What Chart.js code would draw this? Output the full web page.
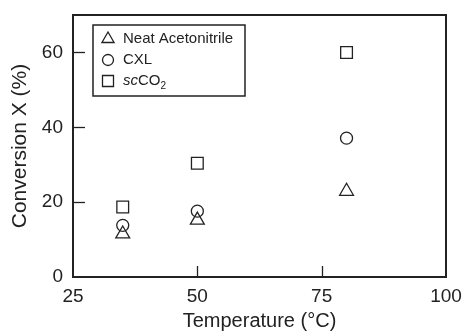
<!DOCTYPE html>
<html>
<head>
<meta charset="utf-8">
<script src="https://cdn.jsdelivr.net/npm/chart.js@4.4.1/dist/chart.umd.min.js"></script>
<style>
  html, body { margin: 0; padding: 0; background: #fff; }
  #wrap { width: 465px; height: 333px; position: relative; }
</style>
</head>
<body>
<div id="wrap"><canvas id="convChart"></canvas></div>
<script>
// --- data ---
const temperatures = [35, 50, 80];
const neatAcetonitrile = [11.5, 15.2, 22.9];
const cxl = [13.8, 17.6, 37.1];
const scCO2 = [18.7, 30.4, 60];
const xTicks = [25, 50, 75, 100];
const yTicks = [0, 20, 40, 60];

const ink = '#222';
const fontFam = '"Liberation Sans", Arial, Helvetica, sans-serif';

function toPoints(ys) {
    return temperatures.map((t, i) => ({ x: t, y: ys[i] }));
}

// frame + inward ticks
const framePlugin = {
    id: 'frame',
    afterDraw(chart) {
        const { ctx, chartArea: a, scales } = chart;
        ctx.save();
        ctx.strokeStyle = ink;
        ctx.lineWidth = 1.3;
        yTicks.slice(1).forEach(v => {
            const py = Math.round(scales.y.getPixelForValue(v)) + 0.5;
            ctx.beginPath();
            ctx.moveTo(a.left, py);
            ctx.lineTo(a.left + 12, py);
            ctx.stroke();
        });
        xTicks.slice(1, -1).forEach(v => {
            const px = Math.round(scales.x.getPixelForValue(v)) + 0.5;
            ctx.beginPath();
            ctx.moveTo(px, a.bottom);
            ctx.lineTo(px, a.bottom - 11);
            ctx.stroke();
        });
        ctx.lineWidth = 2;
        ctx.strokeRect(a.left, a.top, a.right - a.left, a.bottom - a.top);
        ctx.restore();
    }
};

// boxed legend inside the plot (needs italic + subscript for scCO2)
const legendPlugin = {
    id: 'boxLegend',
    afterDraw(chart) {
        const { ctx, chartArea: a } = chart;
        const bx = a.left + 20, by = a.top + 10, bw = 152, bh = 71;
        ctx.save();
        ctx.strokeStyle = ink;
        ctx.lineWidth = 1.5;
        ctx.strokeRect(bx, by, bw, bh);
        ctx.fillStyle = ink;
        ctx.textBaseline = 'middle';
        chart.data.datasets.forEach((ds, i) => {
            const mx = bx + 15, my = by + 14 + i * 21;
            ctx.lineWidth = 1.3;
            ctx.beginPath();
            if (ds.pointStyle === 'triangle') {
                const r = 7;
                ctx.moveTo(mx, my - r);
                ctx.lineTo(mx + r * 0.866, my + r * 0.5);
                ctx.lineTo(mx - r * 0.866, my + r * 0.5);
                ctx.closePath();
            } else if (ds.pointStyle === 'circle') {
                ctx.arc(mx, my, 5.5, 0, Math.PI * 2);
            } else {
                ctx.rect(mx - 5.5, my - 5.5, 11, 11);
            }
            ctx.stroke();
            const tx = bx + 30;
            if (ds.label === 'scCO2') {
                ctx.font = 'italic 15px ' + fontFam;
                ctx.fillText('sc', tx, my);
                let w = ctx.measureText('sc').width;
                ctx.font = '15px ' + fontFam;
                ctx.fillText('CO', tx + w, my);
                w += ctx.measureText('CO').width;
                ctx.font = '10px ' + fontFam;
                ctx.fillText('2', tx + w, my + 5);
            } else {
                ctx.font = '15px ' + fontFam;
                ctx.fillText(ds.label, tx, my);
            }
        });
        ctx.restore();
    }
};

new Chart(document.getElementById('convChart'), {
    type: 'scatter',
    data: {
        datasets: [
            {
                label: 'Neat Acetonitrile',
                data: toPoints(neatAcetonitrile),
                pointStyle: 'triangle',
                pointRadius: 8,
                borderColor: ink,
                backgroundColor: 'rgba(0,0,0,0)',
                borderWidth: 1.3
            },
            {
                label: 'CXL',
                data: toPoints(cxl),
                pointStyle: 'circle',
                pointRadius: 6,
                borderColor: ink,
                backgroundColor: 'rgba(0,0,0,0)',
                borderWidth: 1.3
            },
            {
                label: 'scCO2',
                data: toPoints(scCO2),
                pointStyle: 'rect',
                pointRadius: 8.3,
                borderColor: ink,
                backgroundColor: 'rgba(0,0,0,0)',
                borderWidth: 1.3
            }
        ]
    },
    options: {
        responsive: true,
        maintainAspectRatio: false,
        animation: false,
        layout: { padding: { top: 15, right: 19, left: 0, bottom: 0 } },
        plugins: {
            legend: { display: false },
            tooltip: { enabled: false }
        },
        scales: {
            x: {
                type: 'linear',
                min: 25,
                max: 100,
                afterBuildTicks: s => { s.ticks = xTicks.map(v => ({ value: v })); },
                afterFit: s => { s.height = 56; s.paddingLeft = 0; s.paddingRight = 0; },
                grid: { display: false, drawTicks: false },
                border: { display: false },
                ticks: { color: ink, padding: 8, font: { family: fontFam, size: 19 } },
                title: {
                    display: true,
                    text: 'Temperature (°C)',
                    color: ink,
                    padding: { top: 0, bottom: 0 },
                    font: { family: fontFam, size: 20 }
                }
            },
            y: {
                min: 0,
                max: 70,
                afterBuildTicks: s => { s.ticks = yTicks.map(v => ({ value: v })); },
                afterFit: s => { s.width = 73; s.paddingTop = 0; s.paddingBottom = 0; },
                grid: { display: false, drawTicks: false },
                border: { display: false },
                ticks: { color: ink, padding: 10, font: { family: fontFam, size: 19 } },
                title: {
                    display: true,
                    text: 'Conversion X (%)',
                    color: ink,
                    padding: { top: 8, bottom: 0 },
                    font: { family: fontFam, size: 21 }
                }
            }
        }
    },
    plugins: [framePlugin, legendPlugin]
});
</script>
</body>
</html>
